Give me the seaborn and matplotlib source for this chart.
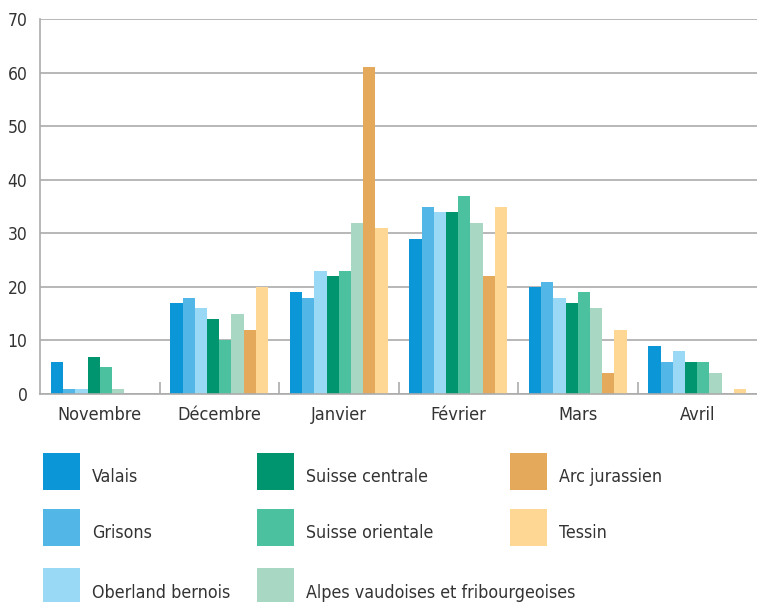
import matplotlib
matplotlib.use("Agg")
import matplotlib.pyplot as plt
from matplotlib.patches import Rectangle
import seaborn as sns
import pandas as pd

months = ["Novembre", "Décembre", "Janvier", "Février", "Mars", "Avril"]
regions = ["Valais", "Grisons", "Oberland bernois", "Suisse centrale",
           "Suisse orientale", "Alpes vaudoises et fribourgeoises",
           "Arc jurassien", "Tessin"]
valais = [6, 17, 19, 29, 20, 9]
grisons = [1, 18, 18, 35, 21, 6]
oberland = [1, 16, 23, 34, 18, 8]
suisse_centrale = [7, 14, 22, 34, 17, 6]
suisse_orientale = [5, 10, 23, 37, 19, 6]
alpes = [1, 15, 32, 32, 16, 4]
arc = [0, 12, 61, 22, 4, 0]
tessin = [0, 20, 31, 35, 12, 1]
series = [valais, grisons, oberland, suisse_centrale, suisse_orientale, alpes, arc, tessin]
colors = ["#0A96D7", "#52B6E6", "#9AD9F5", "#00956E", "#4BC19F", "#A8D8C4", "#E4A95B", "#FED795"]

rows = []
for r, vals in zip(regions, series):
    for m, v in zip(months, vals):
        rows.append({"Mois": m, "Valeur": v, "Région": r})
df = pd.DataFrame(rows)

sns.set_theme(style="white")
plt.rcParams["font.family"] = ["DejaVu Sans", "Liberation Sans"]
plt.rcParams["font.stretch"] = "condensed"

fig = plt.figure(figsize=(7.57, 6.02), dpi=100)
ax = fig.add_axes([40/757, 1-394/602, 1-40/757, (394-19)/602])

sns.barplot(data=df, x="Mois", y="Valeur", hue="Région", order=months,
            hue_order=regions, palette=colors, saturation=1, width=0.82,
            legend=False, ax=ax, linewidth=0)

ax.set_ylim(0, 70)
ax.set_xlim(-0.5, 5.5)
ax.set_yticks(range(0, 71, 10))
ax.yaxis.grid(True, color="#ABABAB", linewidth=1.2)
ax.set_axisbelow(True)
for s in ["top", "right"]:
    ax.spines[s].set_visible(False)
for s in ["left", "bottom"]:
    ax.spines[s].set_color("#ABABAB")
    ax.spines[s].set_linewidth(1.2)
ax.set_xlabel("")
ax.set_ylabel("")
ax.tick_params(axis="y", length=0, labelsize=12.5, colors="#333333", pad=9)
ax.tick_params(axis="x", which="major", bottom=False, length=0, labelsize=13,
               colors="#333333", pad=9)
ax.set_xticks([i + 0.5 for i in range(5)], minor=True)
ax.tick_params(axis="x", which="minor", bottom=True, direction="in", length=9,
               width=1.2, color="#ABABAB")

# custom legend
col_x = [43, 257, 510]
row_y = [453, 509, 568]
pw, ph = 37, 37
for i, (r, c) in enumerate(zip(regions, colors)):
    col = i // 3
    row = i % 3
    x0 = col_x[col]
    y0 = row_y[row]
    fig.patches.append(Rectangle((x0/757, 1-(y0+ph)/602), pw/757, ph/602,
                                 transform=fig.transFigure, facecolor=c,
                                 edgecolor="none"))
    fig.text((x0 + pw + 12)/757, 1-(y0 + ph/2 + 6)/602, r, fontsize=12.8,
             color="#333333", va="center", ha="left")

fig.savefig("out.png", dpi=100)
